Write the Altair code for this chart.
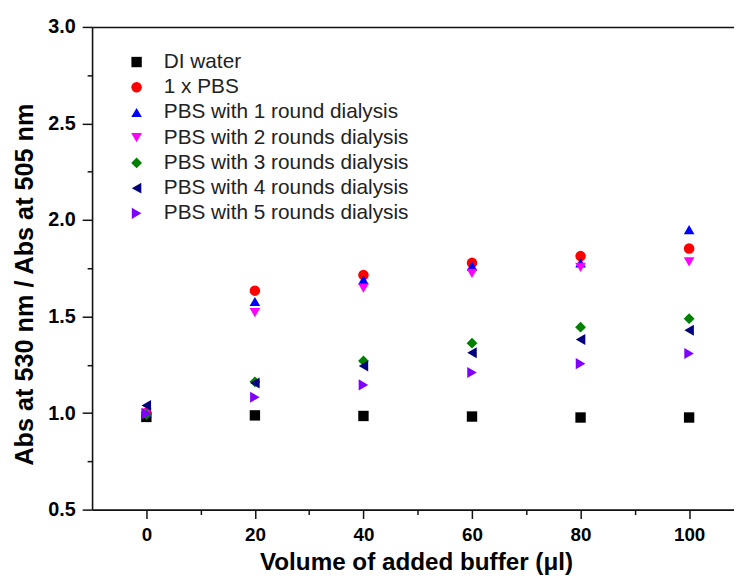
import altair as alt
import pandas as pd

volume = [0, 20, 40, 60, 80, 100]
series_names = [
    "DI water",
    "1 x PBS",
    "PBS with 1 round dialysis",
    "PBS with 2 rounds dialysis",
    "PBS with 3 rounds dialysis",
    "PBS with 4 rounds dialysis",
    "PBS with 5 rounds dialysis",
]
di_water = [0.980, 0.988, 0.985, 0.982, 0.977, 0.977]
pbs_1x = [1.000, 1.634, 1.715, 1.778, 1.813, 1.852]
pbs_r1 = [1.000, 1.578, 1.690, 1.761, 1.778, 1.950]
pbs_r2 = [1.000, 1.520, 1.647, 1.724, 1.755, 1.783]
pbs_r3 = [0.992, 1.162, 1.270, 1.362, 1.445, 1.489]
pbs_r4 = [1.039, 1.156, 1.244, 1.312, 1.381, 1.429]
pbs_r5 = [0.997, 1.082, 1.146, 1.210, 1.256, 1.309]
all_values = [di_water, pbs_1x, pbs_r1, pbs_r2, pbs_r3, pbs_r4, pbs_r5]

colors = ["#000000", "#ff0000", "#0000ff", "#ff00ff", "#008000", "#000080", "#8000ff"]
shapes = ["square", "circle", "triangle-up", "triangle-down", "diamond",
          "triangle-left", "triangle-right"]
marker_sizes = [110, 125, 200, 200, 180, 200, 200]

x_major = [0, 20, 40, 60, 80, 100]
x_minor = [10, 30, 50, 70, 90]
y_major = [0.5, 1.0, 1.5, 2.0, 2.5, 3.0]
y_minor = [0.75, 1.25, 1.75, 2.25, 2.75]

rows = []
for name, vals in zip(series_names, all_values):
    for v, r in zip(volume, vals):
        rows.append({"series": name, "volume": v, "ratio": r})
df = pd.DataFrame(rows)

FONT = "Liberation Sans"
x_scale = alt.Scale(domain=[-10, 108.27], nice=False, zero=False)
y_scale = alt.Scale(domain=[0.5, 3.0], nice=False, zero=False)

common_axis = dict(grid=False, domainColor="#111111", domainWidth=1.6,
                   tickColor="#111111", tickWidth=1.5)

legend_cfg = dict(title=None, orient="none", legendX=34.5, legendY=25,
                  labelFont=FONT, labelFontSize=21, labelColor="#222222",
                  labelLimit=0, rowPadding=3.5, labelOffset=17,
                  padding=0, symbolStrokeWidth=0)

points = alt.Chart(df).mark_point(filled=True, opacity=1).encode(
    x=alt.X("volume:Q", scale=x_scale,
            axis=alt.Axis(values=x_major, orient="bottom", format="d",
                          title="Volume of added buffer (\u03bcl)",
                          tickSize=9, labelPadding=7, titlePadding=7,
                          titleX=327.5,
                          labelFont=FONT, labelFontSize=19, labelFontWeight="bold",
                          labelColor="#000000", titleFont=FONT, titleFontSize=24.5,
                          titleFontWeight="bold", titleColor="#000000",
                          **common_axis)),
    y=alt.Y("ratio:Q", scale=y_scale,
            axis=alt.Axis(values=y_major, orient="left", format=".1f",
                          title="Abs at 530 nm / Abs at 505 nm",
                          tickSize=10, labelPadding=7, titlePadding=10,
                          titleY=260,
                          labelFont=FONT, labelFontSize=20, labelFontWeight="bold",
                          labelColor="#000000", titleFont=FONT, titleFontSize=25.5,
                          titleFontWeight="bold", titleColor="#000000",
                          **common_axis)),
    color=alt.Color("series:N", scale=alt.Scale(domain=series_names, range=colors),
                    legend=alt.Legend(**legend_cfg)),
    shape=alt.Shape("series:N", scale=alt.Scale(domain=series_names, range=shapes),
                    legend=alt.Legend(**legend_cfg)),
    size=alt.Size("series:N", scale=alt.Scale(domain=series_names, range=marker_sizes),
                  legend=alt.Legend(**legend_cfg)),
)

minor = alt.Chart(df).mark_point(opacity=0).encode(
    x=alt.X("volume:Q", scale=x_scale,
            axis=alt.Axis(values=x_minor, orient="bottom", labels=False, domain=False,
                          title=None, tickSize=5, grid=False, tickColor="#111111",
                          tickWidth=1.5)),
    y=alt.Y("ratio:Q", scale=y_scale,
            axis=alt.Axis(values=y_minor, orient="left", labels=False, domain=False,
                          title=None, tickSize=5, grid=False, tickColor="#111111",
                          tickWidth=1.5)),
)

top = alt.Chart(df).mark_point(opacity=0).encode(
    x=alt.X("volume:Q", scale=x_scale,
            axis=alt.Axis(orient="top", labels=False, ticks=False, title=None,
                          grid=False, domainColor="#111111", domainWidth=1.6)),
)

chart = alt.layer(points, minor, top).resolve_axis(
    x="independent", y="independent"
).properties(
    width=649, height=488,
    autosize=alt.AutoSizeParams(type="none"),
    padding={"left": 85, "top": 16, "right": 0, "bottom": 65},
).configure_view(stroke=None).configure(background="white")

chart.save("out.html", embed_options={"renderer": "svg", "actions": False})
